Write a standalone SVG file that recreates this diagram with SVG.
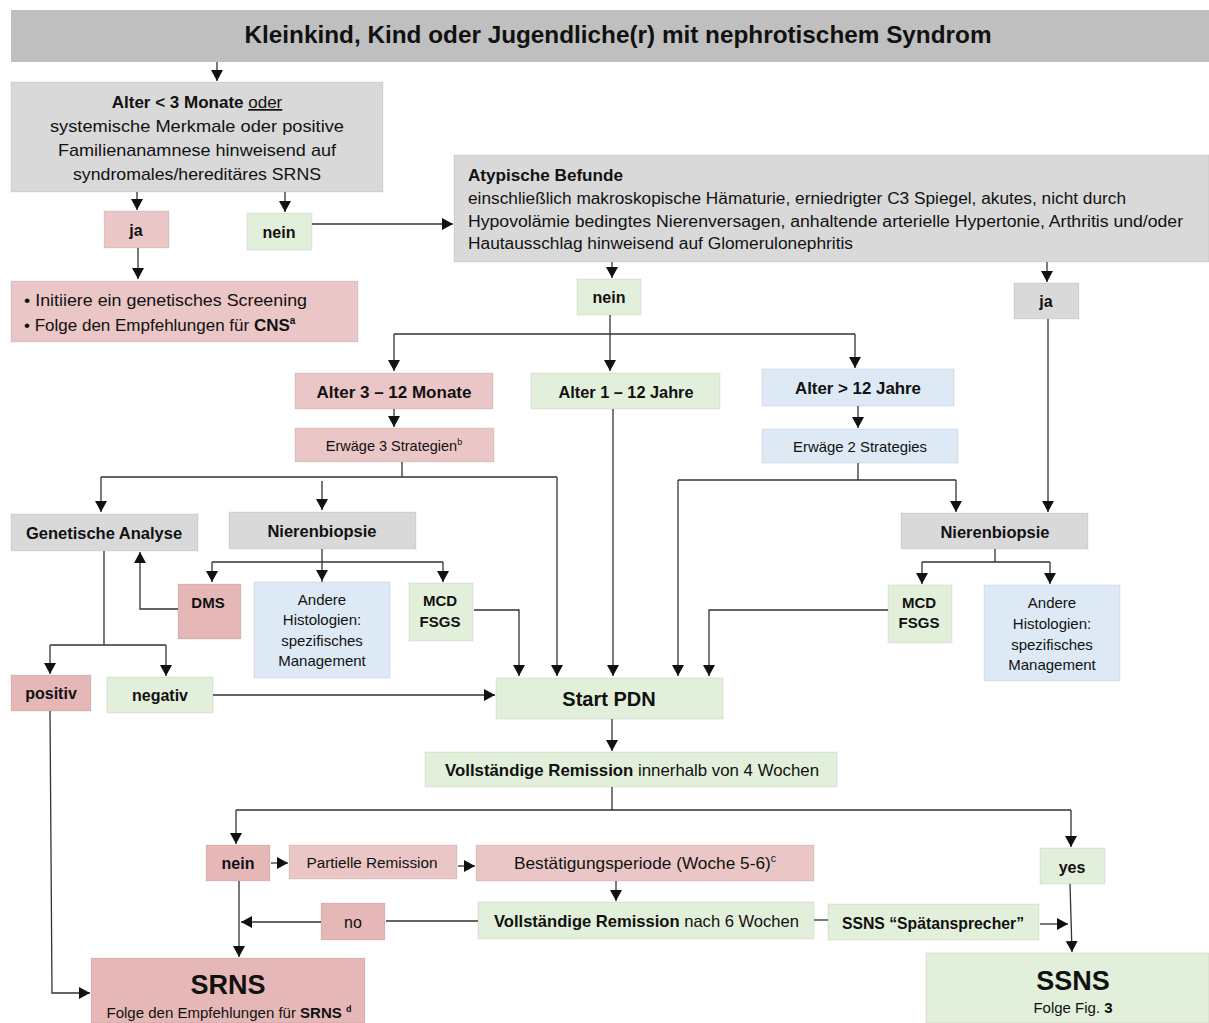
<svg xmlns="http://www.w3.org/2000/svg" width="1209" height="1023" viewBox="0 0 1209 1023">
<defs>
<marker id="ah" markerUnits="userSpaceOnUse" markerWidth="12" markerHeight="12" refX="11" refY="6" orient="auto">
<path d="M0,0 L11,6 L0,12 z" fill="#111"/>
</marker>
<style>
text{font-family:"Liberation Sans",Arial,sans-serif;fill:#111}
.b{font-weight:bold}
.c{text-anchor:middle}
rect.n{stroke:#000;stroke-opacity:0.08;stroke-width:1}
.gray{fill:#d9d9d9}
.pk{fill:#eac6c6}
.pd{fill:#e5b8b7}
.gr{fill:#e2efda}
.bl{fill:#dde9f5}
.ln{stroke:#333;stroke-width:1.3;fill:none}
.ar{stroke:#333;stroke-width:1.3;fill:none;marker-end:url(#ah)}
</style>
</defs>
<rect width="1209" height="1023" fill="#fff"/>

<g id="connectors">
<path class="ar" d="M217,62 V81"/>
<path class="ar" d="M137,192 V210"/>
<path class="ar" d="M285,192 V212"/>
<path class="ar" d="M138,248 V279"/>
<path class="ar" d="M312,224 H453"/>
<path class="ar" d="M612,262 V278"/>
<path class="ar" d="M1047,262 V282"/>
<path class="ar" d="M610,315 V371"/>
<path class="ln" d="M394,334 H855"/>
<path class="ar" d="M394,334 V371"/>
<path class="ar" d="M855,334 V368"/>
<path class="ar" d="M394,409 V427"/>
<path class="ar" d="M858,406 V428"/>
<path class="ln" d="M402,462 V477 M101,477 H557"/>
<path class="ar" d="M101,477 V512"/>
<path class="ar" d="M557,477 V676"/>
<path class="ar" d="M322,481 V510"/>
<path class="ln" d="M322,549 V562 M212,562 H443"/>
<path class="ar" d="M212,562 V582"/>
<path class="ar" d="M322,562 V581"/>
<path class="ln" d="M322,581 V597" stroke-width="0.8"/>
<path class="ar" d="M443,562 V582"/>
<path class="ar" d="M178,609 H140 V552"/>
<path class="ar" d="M474,610 H519 V676"/>
<path class="ln" d="M104,551 V645 M50,645 H166"/>
<path class="ar" d="M50,645 V674"/>
<path class="ar" d="M166,645 V676"/>
<path class="ar" d="M213,695 H495"/>
<path class="ar" d="M613,409 V676"/>
<path class="ln" d="M858,463 V480 M678,480 H956"/>
<path class="ar" d="M678,480 V676"/>
<path class="ar" d="M956,480 V512"/>
<path class="ar" d="M1048,319 V512"/>
<path class="ln" d="M995,549 V562 M922,562 H1050"/>
<path class="ar" d="M922,562 V584"/>
<path class="ar" d="M1050,562 V584"/>
<path class="ar" d="M888,610 H709 V676"/>
<path class="ar" d="M612,719 V751"/>
<path class="ln" d="M612,787 V810 M236,810 H1071"/>
<path class="ar" d="M236,810 V844"/>
<path class="ar" d="M1071,810 V847"/>
<path class="ar" d="M271,863 H288"/>
<path class="ar" d="M458,866 H475"/>
<path class="ar" d="M616,881 V901"/>
<path class="ln" d="M478,921 H386"/>
<path class="ar" d="M321,922 H241"/>
<path class="ar" d="M239,881 V957"/>
<path class="ar" d="M50,711 L52,993 H90"/>
<path class="ln" d="M814,920 H828"/>
<path class="ar" d="M1040,924 H1068"/>
<path class="ar" d="M1070,884 L1072,952"/>
</g>

<g id="title">
<rect x="11" y="10" width="1198" height="52" fill="#bfbfbf"/>
<text class="b c" x="618" y="43" font-size="24" textLength="747" lengthAdjust="spacingAndGlyphs">Kleinkind, Kind oder Jugendliche(r) mit nephrotischem Syndrom</text>
</g>

<g id="alter-lt3">
<rect class="n gray" x="11" y="82" width="372" height="110"/>
<text class="c" x="197" y="108" font-size="17"><tspan class="b">Alter  &lt; 3 Monate </tspan><tspan text-decoration="underline">oder</tspan></text>
<text class="c" x="197" y="132" font-size="17" textLength="294" lengthAdjust="spacingAndGlyphs">systemische Merkmale oder positive</text>
<text class="c" x="197" y="156" font-size="17" textLength="278" lengthAdjust="spacingAndGlyphs">Familienanamnese hinweisend auf</text>
<text class="c" x="197" y="180" font-size="17" textLength="248" lengthAdjust="spacingAndGlyphs">syndromales/hereditäres SRNS</text>
</g>

<g id="ja1">
<rect class="n pk" x="104" y="211" width="65" height="37"/>
<text class="b c" x="136" y="236" font-size="16">ja</text>
</g>

<g id="nein1">
<rect class="n gr" x="247" y="213" width="65" height="37"/>
<text class="b c" x="279" y="238" font-size="16">nein</text>
</g>

<g id="cns">
<rect class="n pk" x="11" y="281" width="347" height="61"/>
<text x="24" y="306" font-size="17" textLength="283" lengthAdjust="spacingAndGlyphs">• Initiiere ein genetisches Screening</text>
<text x="24" y="331" font-size="17">• Folge den Empfehlungen für <tspan class="b">CNS</tspan><tspan class="b" font-size="10" dy="-7">a</tspan></text>
</g>

<g id="atypisch">
<rect class="n gray" x="454" y="155" width="755" height="107"/>
<text class="b" x="468" y="181" font-size="16" textLength="155" lengthAdjust="spacingAndGlyphs">Atypische Befunde</text>
<text x="468" y="204" font-size="16" textLength="658" lengthAdjust="spacingAndGlyphs">einschließlich makroskopische Hämaturie, erniedrigter C3 Spiegel, akutes, nicht durch</text>
<text x="468" y="227" font-size="16" textLength="715" lengthAdjust="spacingAndGlyphs">Hypovolämie bedingtes Nierenversagen, anhaltende arterielle Hypertonie, Arthritis und/oder</text>
<text x="468" y="249" font-size="16" textLength="385" lengthAdjust="spacingAndGlyphs">Hautausschlag hinweisend auf Glomerulonephritis</text>
</g>

<g id="nein2">
<rect class="n gr" x="577" y="279" width="64" height="36"/>
<text class="b c" x="609" y="303" font-size="16">nein</text>
</g>

<g id="ja2">
<rect class="n gray" x="1014" y="283" width="65" height="36"/>
<text class="b c" x="1046" y="307" font-size="16">ja</text>
</g>

<g id="alter-3-12m">
<rect class="n pk" x="295" y="373" width="198" height="36"/>
<text class="b c" x="394" y="398" font-size="17">Alter 3 – 12 Monate</text>
</g>

<g id="alter-1-12j">
<rect class="n gr" x="531" y="373" width="189" height="36"/>
<text class="b c" x="626" y="398" font-size="17" textLength="135" lengthAdjust="spacingAndGlyphs">Alter 1 – 12 Jahre</text>
</g>

<g id="alter-gt12">
<rect class="n bl" x="762" y="369" width="192" height="37"/>
<text class="b c" x="858" y="394" font-size="17" textLength="126" lengthAdjust="spacingAndGlyphs">Alter &gt; 12  Jahre</text>
</g>

<g id="erwaege3">
<rect class="n pk" x="295" y="428" width="199" height="34"/>
<text class="c" x="394" y="451" font-size="14.5">Erwäge 3 Strategien<tspan font-size="9" dy="-6">b</tspan></text>
</g>

<g id="erwaege2">
<rect class="n bl" x="762" y="429" width="196" height="34"/>
<text class="c" x="860" y="452" font-size="14.5" textLength="134" lengthAdjust="spacingAndGlyphs">Erwäge 2 Strategies</text>
</g>

<g id="genetische">
<rect class="n gray" x="11" y="514" width="187" height="37"/>
<text class="b c" x="104" y="539" font-size="16.5">Genetische Analyse</text>
</g>

<g id="nierenbiopsie1">
<rect class="n gray" x="229" y="512" width="187" height="37"/>
<text class="b c" x="322" y="537" font-size="16.5">Nierenbiopsie</text>
</g>

<g id="dms">
<rect class="n pd" x="178" y="584" width="63" height="55"/>
<text class="b c" x="208" y="608" font-size="15">DMS</text>
</g>

<g id="andere1">
<rect class="n bl" x="254" y="582" width="136" height="96"/>
<text class="c" x="322" y="605" font-size="15">Andere</text>
<text class="c" x="322" y="625" font-size="15">Histologien:</text>
<text class="c" x="322" y="646" font-size="15">spezifisches</text>
<text class="c" x="322" y="666" font-size="15">Management</text>
</g>

<g id="mcd1">
<rect class="n gr" x="409" y="583" width="64" height="58"/>
<text class="b c" x="440" y="606" font-size="15">MCD</text>
<text class="b c" x="440" y="627" font-size="15">FSGS</text>
</g>

<g id="positiv">
<rect class="n pd" x="11" y="675" width="80" height="36"/>
<text class="b c" x="51" y="699" font-size="16">positiv</text>
</g>

<g id="negativ">
<rect class="n gr" x="107" y="677" width="106" height="36"/>
<text class="b c" x="160" y="701" font-size="16">negativ</text>
</g>

<g id="start-pdn">
<rect class="n gr" x="496" y="678" width="227" height="41"/>
<text class="b c" x="609" y="706" font-size="20">Start PDN</text>
</g>

<g id="nierenbiopsie2">
<rect class="n gray" x="901" y="513" width="187" height="36"/>
<text class="b c" x="995" y="538" font-size="16.5">Nierenbiopsie</text>
</g>

<g id="mcd2">
<rect class="n gr" x="888" y="585" width="64" height="58"/>
<text class="b c" x="919" y="608" font-size="15">MCD</text>
<text class="b c" x="919" y="628" font-size="15">FSGS</text>
</g>

<g id="andere2">
<rect class="n bl" x="984" y="585" width="136" height="96"/>
<text class="c" x="1052" y="608" font-size="15">Andere</text>
<text class="c" x="1052" y="629" font-size="15">Histologien:</text>
<text class="c" x="1052" y="650" font-size="15">spezifisches</text>
<text class="c" x="1052" y="670" font-size="15">Management</text>
</g>

<g id="remission4">
<rect class="n gr" x="425" y="752" width="412" height="35"/>
<text x="445" y="776" font-size="16.5" textLength="374" lengthAdjust="spacingAndGlyphs"><tspan class="b">Vollständige Remission</tspan> innerhalb von 4 Wochen</text>
</g>

<g id="nein3">
<rect class="n pd" x="206" y="845" width="64" height="36"/>
<text class="b c" x="238" y="869" font-size="16">nein</text>
</g>

<g id="partielle">
<rect class="n pk" x="289" y="845" width="168" height="34"/>
<text class="c" x="372" y="868" font-size="15" textLength="131" lengthAdjust="spacingAndGlyphs">Partielle Remission</text>
</g>

<g id="bestaetigung">
<rect class="n pk" x="476" y="845" width="338" height="36"/>
<text x="514" y="869" font-size="16.5" textLength="262" lengthAdjust="spacingAndGlyphs">Bestätigungsperiode (Woche 5-6)<tspan font-size="10" dy="-7">c</tspan></text>
</g>

<g id="remission6">
<rect class="n gr" x="478" y="902" width="336" height="37"/>
<text x="494" y="927" font-size="16.5" textLength="305" lengthAdjust="spacingAndGlyphs"><tspan class="b">Vollständige Remission</tspan> nach 6 Wochen</text>
</g>

<g id="no">
<rect class="n pd" x="321" y="903" width="64" height="37"/>
<text class="c" x="353" y="928" font-size="16">no</text>
</g>

<g id="spaet">
<rect class="n gr" x="828" y="904" width="211" height="36"/>
<text class="b c" x="933" y="929" font-size="16" textLength="182" lengthAdjust="spacingAndGlyphs">SSNS “Spätansprecher”</text>
</g>

<g id="yes">
<rect class="n gr" x="1040" y="848" width="65" height="36"/>
<text class="b c" x="1072" y="873" font-size="16">yes</text>
</g>

<g id="srns">
<rect class="n pd" x="91" y="958" width="274" height="65"/>
<text class="b c" x="228" y="994" font-size="27">SRNS</text>
<text class="c" x="229" y="1018" font-size="15" textLength="245" lengthAdjust="spacingAndGlyphs">Folge den Empfehlungen für <tspan class="b">SRNS </tspan><tspan class="b" font-size="9" dy="-6">d</tspan></text>
</g>

<g id="ssns">
<rect class="n gr" x="926" y="953" width="283" height="70"/>
<text class="b c" x="1073" y="990" font-size="27">SSNS</text>
<text class="c" x="1073" y="1013" font-size="15">Folge Fig. <tspan class="b">3</tspan></text>
</g>
</svg>
